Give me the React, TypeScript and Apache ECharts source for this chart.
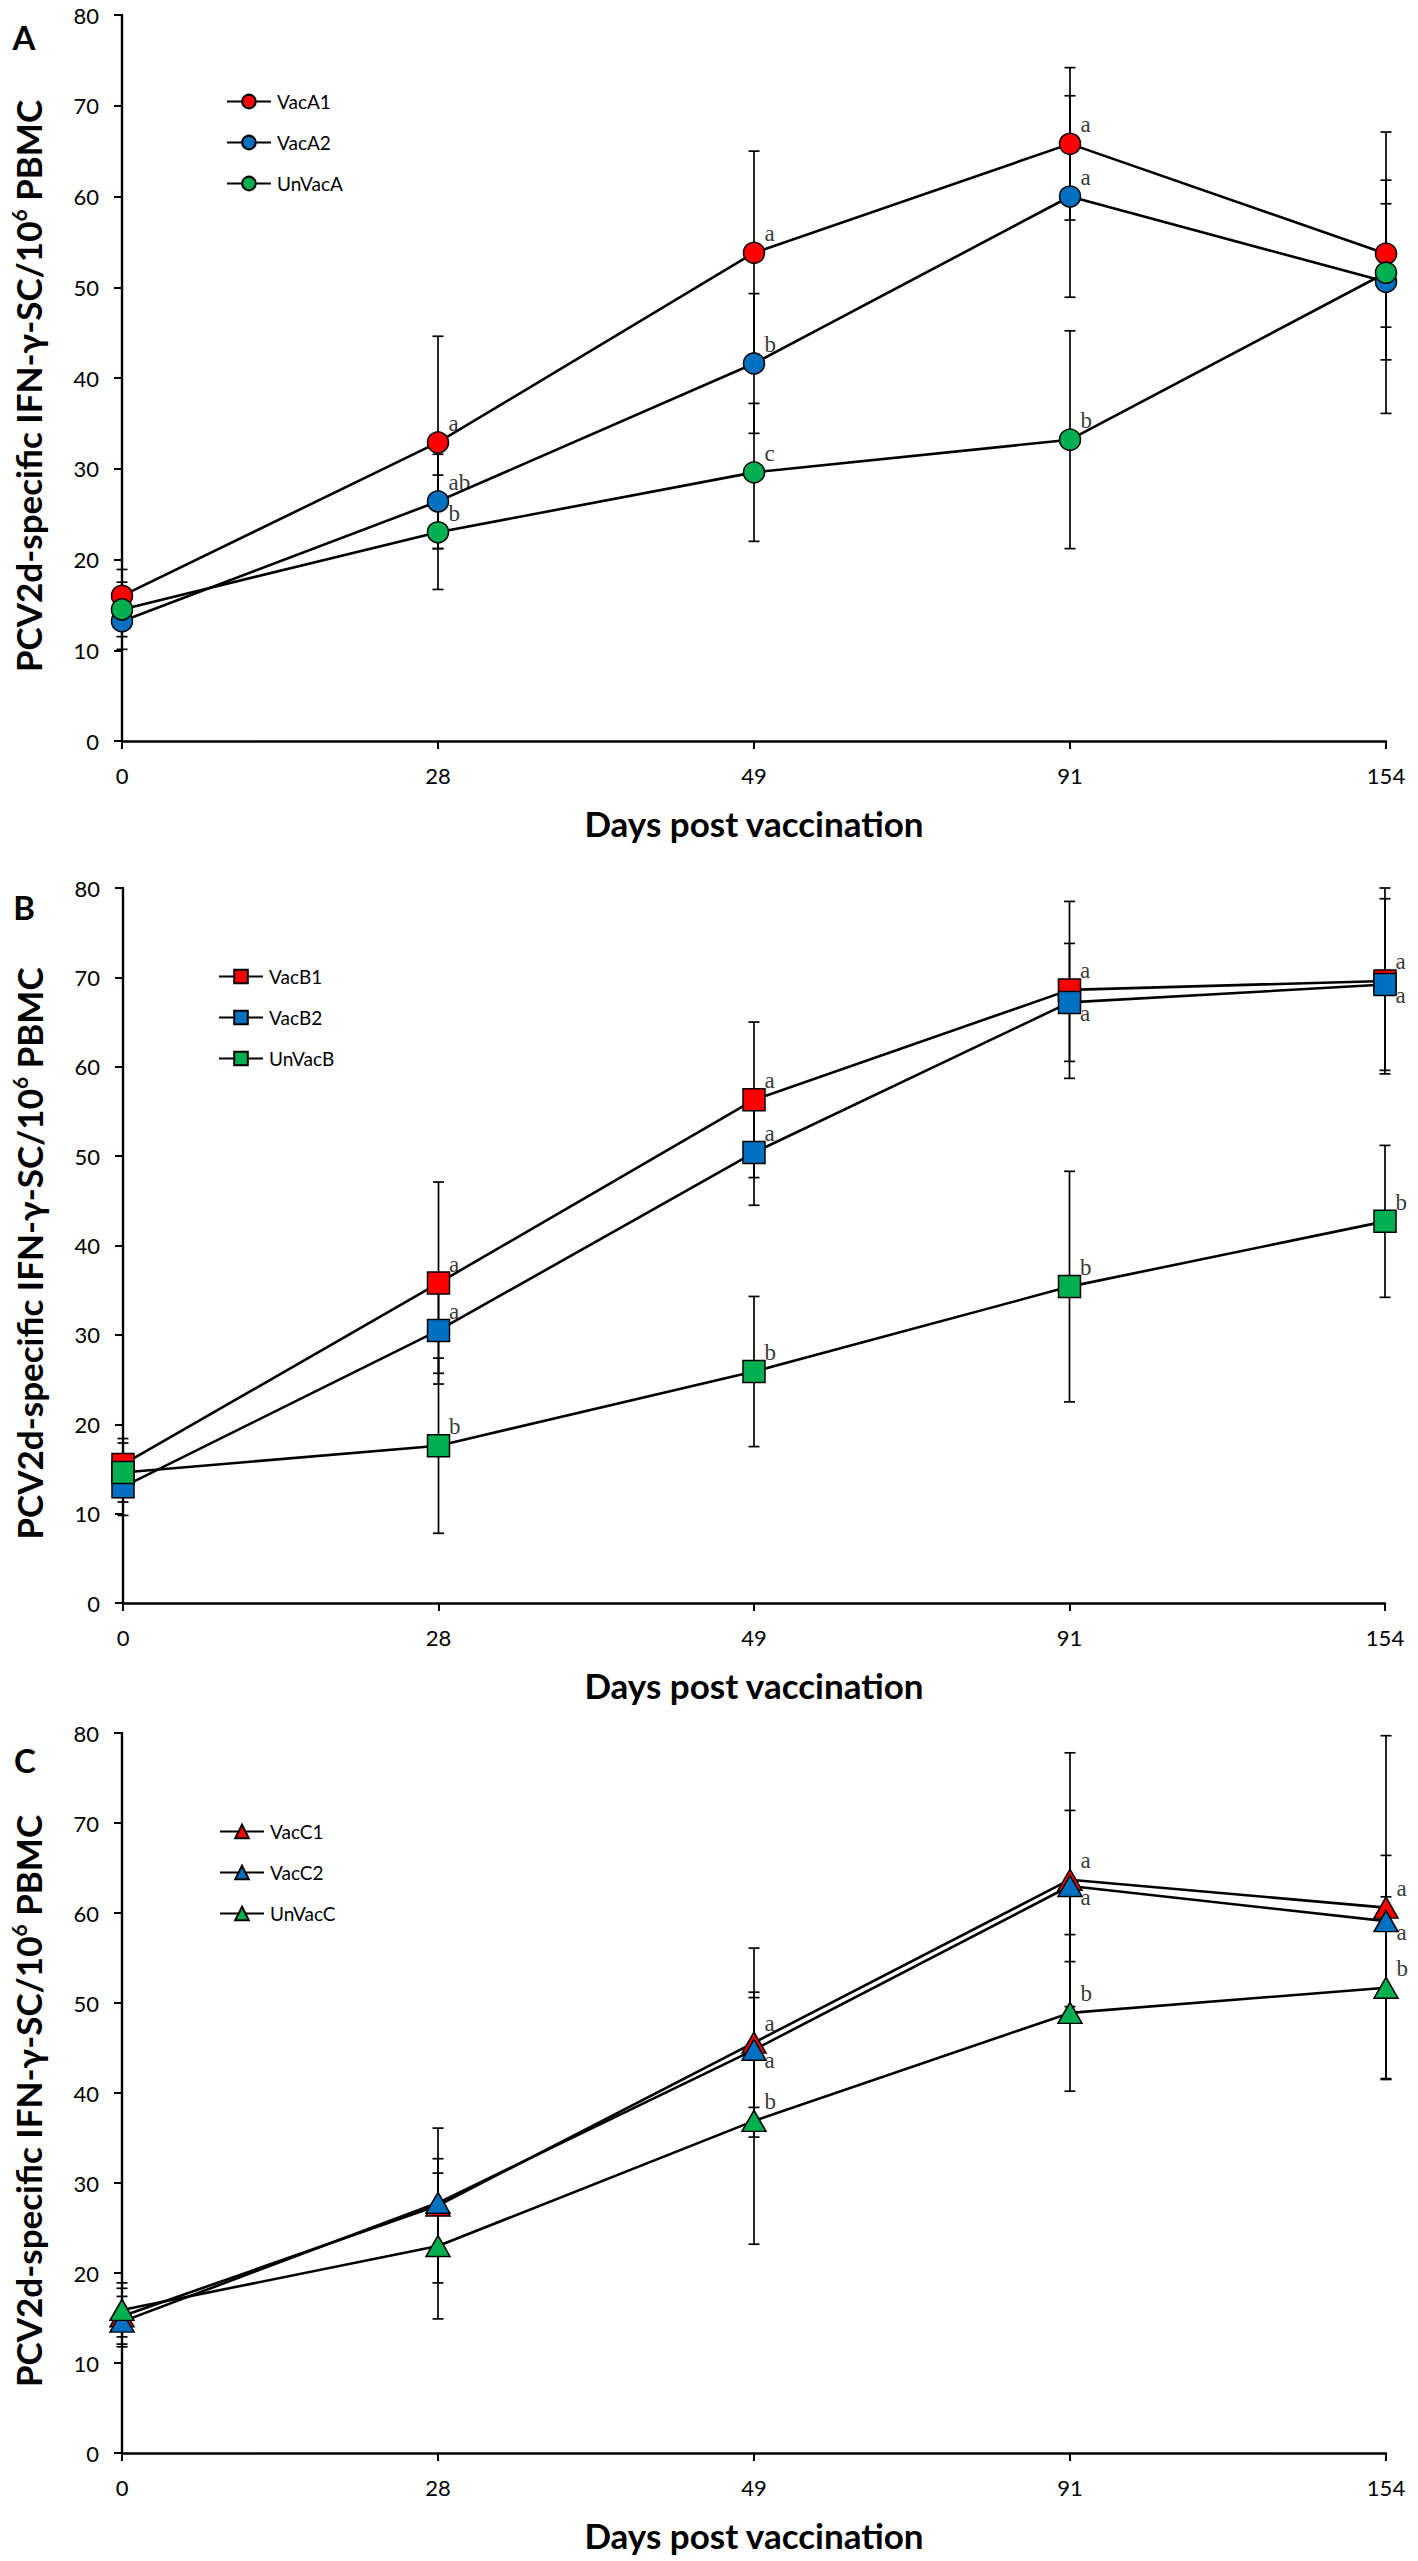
import React, { useEffect, useRef } from "react";
import * as echarts from "echarts";

// ---------- data ----------
const days = ["0", "28", "49", "91", "154"];
const yMin = 0;
const yMax = 80;
const yStep = 10;
const xTitle = "Days post vaccination";
const yTitle = "PCV2d-specific IFN-γ-SC/10{sup|6} PBMC";

// Panel A (circles)
const vacA1 = [16.0, 32.9, 53.8, 65.8, 53.7];
const vacA1Err = [2.9, 11.7, 11.2, 8.4, 8.1];
const vacA1Letters = ["", "a", "a", "a", ""];
const vacA2 = [13.2, 26.4, 41.6, 60.0, 50.6];
const vacA2Err = [3.1, 5.2, 7.7, 11.1, 8.6];
const vacA2Letters = ["", "ab", "b", "a", ""];
const unVacA = [14.5, 23.0, 29.6, 33.2, 51.6];
const unVacAErr = [3.0, 6.3, 7.6, 12.0, 15.5];
const unVacALetters = ["", "b", "c", "b", ""];

// Panel B (squares)
const vacB1 = [15.5, 35.8, 56.3, 68.6, 69.6];
const vacB1Err = [2.9, 11.3, 8.7, 9.9, 10.4];
const vacB1Letters = ["", "a", "a", "a", "a"];
const vacB2 = [13.0, 30.5, 50.4, 67.2, 69.2];
const vacB2Err = [3.2, 4.8, 5.9, 6.6, 9.6];
const vacB2Letters = ["", "a", "a", "a", "a"];
const unVacB = [14.6, 17.6, 25.9, 35.4, 42.7];
const unVacBErr = [3.3, 9.8, 8.4, 12.9, 8.5];
const unVacBLetters = ["", "b", "b", "b", "b"];

// Panel C (triangles)
const vacC1 = [15.2, 27.5, 45.6, 63.7, 60.6];
const vacC1Err = [3.1, 8.6, 10.5, 14.1, 19.1];
const vacC1Letters = ["", "", "a", "a", "a"];
const vacC2 = [14.6, 27.8, 44.8, 63.0, 59.1];
const vacC2Err = [2.8, 4.9, 6.4, 8.4, 7.3];
const vacC2Letters = ["", "", "a", "a", "a"];
const unVacC = [15.9, 23.0, 36.9, 48.9, 51.7];
const unVacCErr = [3.0, 8.1, 13.7, 8.7, 10.1];
const unVacCLetters = ["", "", "b", "b", "b"];

// ---------- styles ----------
const RED = "#FF0000";
const BLUE = "#0070C0";
const GREEN = "#00B050";
const SANS = "Lato, 'Open Sans', sans-serif";
const SERIF = "'Liberation Serif', 'DejaVu Serif', serif";

type Ser = { name: string; values: number[]; errors: number[]; letters: string[]; color: string };
type Panel = {
  label: string;
  labelPos: [number, number];
  symbol: string;
  symbolSize: number | number[];
  grid: { left: number; top: number; width: number; height: number };
  legendPos: { left: number; top: number };
  series: Ser[];
};

const panels: Panel[] = [
  {
    label: "A",
    labelPos: [24, 37],
    symbol: "circle",
    symbolSize: 21,
    grid: { left: 118, top: 15, width: 1268, height: 726 },
    legendPos: { left: 221, top: 87 },
    series: [
      { name: "VacA1", values: vacA1, errors: vacA1Err, letters: vacA1Letters, color: RED },
      { name: "VacA2", values: vacA2, errors: vacA2Err, letters: vacA2Letters, color: BLUE },
      { name: "UnVacA", values: unVacA, errors: unVacAErr, letters: unVacALetters, color: GREEN },
    ],
  },
  {
    label: "B",
    labelPos: [24, 907],
    symbol: "rect",
    symbolSize: 22,
    grid: { left: 123, top: 888, width: 1262, height: 715 },
    legendPos: { left: 213, top: 962 },
    series: [
      { name: "VacB1", values: vacB1, errors: vacB1Err, letters: vacB1Letters, color: RED },
      { name: "VacB2", values: vacB2, errors: vacB2Err, letters: vacB2Letters, color: BLUE },
      { name: "UnVacB", values: unVacB, errors: unVacBErr, letters: unVacBLetters, color: GREEN },
    ],
  },
  {
    label: "C",
    labelPos: [25, 1760],
    symbol: "triangle",
    symbolSize: [24, 21],
    grid: { left: 121, top: 1733, width: 1265, height: 720 },
    legendPos: { left: 214, top: 1817 },
    series: [
      { name: "VacC1", values: vacC1, errors: vacC1Err, letters: vacC1Letters, color: RED },
      { name: "VacC2", values: vacC2, errors: vacC2Err, letters: vacC2Letters, color: BLUE },
      { name: "UnVacC", values: unVacC, errors: unVacCErr, letters: unVacCLetters, color: GREEN },
    ],
  },
];

function buildOption() {
  const series: any[] = [];
  panels.forEach((p, pi) => {
    p.series.forEach((s) => {
      // error bars
      series.push({
        type: "custom",
        name: s.name + "-err",
        xAxisIndex: pi,
        yAxisIndex: pi,
        z: 2,
        silent: true,
        itemStyle: { color: "#000000" },
        encode: { x: 0, y: [1, 2] },
        data: s.values.map((v, i) => [i, v - s.errors[i], v + s.errors[i]]),
        renderItem: (params: any, api: any) => {
          const x = api.value(0);
          const top = api.coord([x, api.value(2)]);
          const bot = api.coord([x, api.value(1)]);
          const w = 5.5;
          const st = { stroke: "#000", lineWidth: 1.7 };
          return {
            type: "group",
            children: [
              { type: "line", shape: { x1: top[0], y1: top[1], x2: bot[0], y2: bot[1] }, style: st },
              { type: "line", shape: { x1: top[0] - w, y1: top[1], x2: top[0] + w, y2: top[1] }, style: st },
              { type: "line", shape: { x1: bot[0] - w, y1: bot[1], x2: bot[0] + w, y2: bot[1] }, style: st },
            ],
          };
        },
      });
    });
    p.series.forEach((s) => {
      series.push({
        type: "line",
        name: s.name,
        xAxisIndex: pi,
        yAxisIndex: pi,
        z: 3,
        data: s.values,
        symbol: p.symbol,
        symbolSize: p.symbolSize,
        showAllSymbol: true,
        lineStyle: { color: "#000", width: 2.6 },
        itemStyle: { color: s.color, borderColor: "#000", borderWidth: 1.5 },
        emphasis: { disabled: true },
      });
    });
    p.series.forEach((s, si) => {
      const items: any[] = [];
      s.values.forEach((v, idx) => {
        const letter = s.letters[idx];
        if (!letter) return;
        const below = p.series.some(
          (o, oi) => oi !== si && o.values[idx] > v && o.values[idx] - v < 2.5
        );
        items.push({
          value: [idx, v],
          label: {
            show: true,
            formatter: letter,
            offset: [10, below ? 11 : -19],
          },
        });
      });
      series.push({
        type: "scatter",
        name: s.name + "-letters",
        xAxisIndex: pi,
        yAxisIndex: pi,
        z: 5,
        silent: true,
        symbol: "circle",
        symbolSize: 1,
        itemStyle: { color: "rgba(0,0,0,0)" },
        label: {
          show: true,
          position: "right",
          distance: 0,
          color: "#000000",
          fontFamily: SERIF,
          fontSize: 23,
          align: "left",
          verticalAlign: "middle",
        },
        emphasis: { disabled: true },
        data: items,
      });
    });
  });

  return {
    animation: false,
    backgroundColor: "#ffffff",
    grid: panels.map((p) => ({ ...p.grid, containLabel: false })),
    xAxis: panels.map((p, i) => ({
      type: "category",
      gridIndex: i,
      data: days,
      boundaryGap: false,
      axisLine: { show: true, lineStyle: { color: "#000", width: 2.6 } },
      axisTick: { show: true, alignWithLabel: true, length: 8, lineStyle: { color: "#000", width: 2 } },
      axisLabel: { color: "#000", fontFamily: SANS, fontSize: 22, margin: 23 },
      splitLine: { show: false },
      name: xTitle,
      nameLocation: "middle",
      nameGap: 64,
      nameTextStyle: { color: "#000", fontFamily: SANS, fontWeight: "bold", fontSize: 35 },
    })),
    yAxis: panels.map((p, i) => ({
      type: "value",
      gridIndex: i,
      min: yMin,
      max: yMax,
      interval: yStep,
      axisLine: { show: true, lineStyle: { color: "#000", width: 2.4 } },
      axisTick: { show: true, length: 8, lineStyle: { color: "#000", width: 2 } },
      axisLabel: { color: "#000", fontFamily: SANS, fontSize: 22, margin: 23 },
      splitLine: { show: false },
      name: yTitle,
      nameLocation: "middle",
      nameRotate: 90,
      nameGap: 74,
      nameTextStyle: {
        color: "#000",
        fontFamily: SANS,
        fontWeight: "bold",
        fontSize: 35,
        lineHeight: 40,
        padding: [0, 16, 0, 0],
        rich: {
          sup: {
            color: "#000",
            fontFamily: SANS,
            fontWeight: "bold",
            fontSize: 21,
            lineHeight: 28,
            verticalAlign: "top",
          },
        },
      },
    })),
    legend: panels.map((p) => ({
      orient: "vertical",
      left: p.legendPos.left,
      top: p.legendPos.top,
      itemWidth: 44,
      itemHeight: 17,
      itemGap: 22,
      selectedMode: false,
      data: p.series.map((s) => s.name),
      textStyle: { color: "#000", fontFamily: SANS, fontSize: 19, padding: [0, 0, 0, 1] },
    })),
    graphic: panels.map((p) => ({
      type: "text",
      x: p.labelPos[0],
      y: p.labelPos[1],
      style: {
        text: p.label,
        fill: "#000",
        font: "bold 33px " + SANS,
        align: "center",
        verticalAlign: "middle",
      },
    })),
    series,
  };
}

export default function App() {
  const ref = useRef<HTMLDivElement>(null);
  useEffect(() => {
    if (!ref.current) return;
    const chart = echarts.init(ref.current, undefined, { renderer: "svg" });
    chart.setOption(buildOption());
    return () => chart.dispose();
  }, []);
  return (
    <div
      ref={ref}
      style={{ position: "absolute", left: 0, top: 0, width: 1418, height: 2561, background: "#fff" }}
    />
  );
}
